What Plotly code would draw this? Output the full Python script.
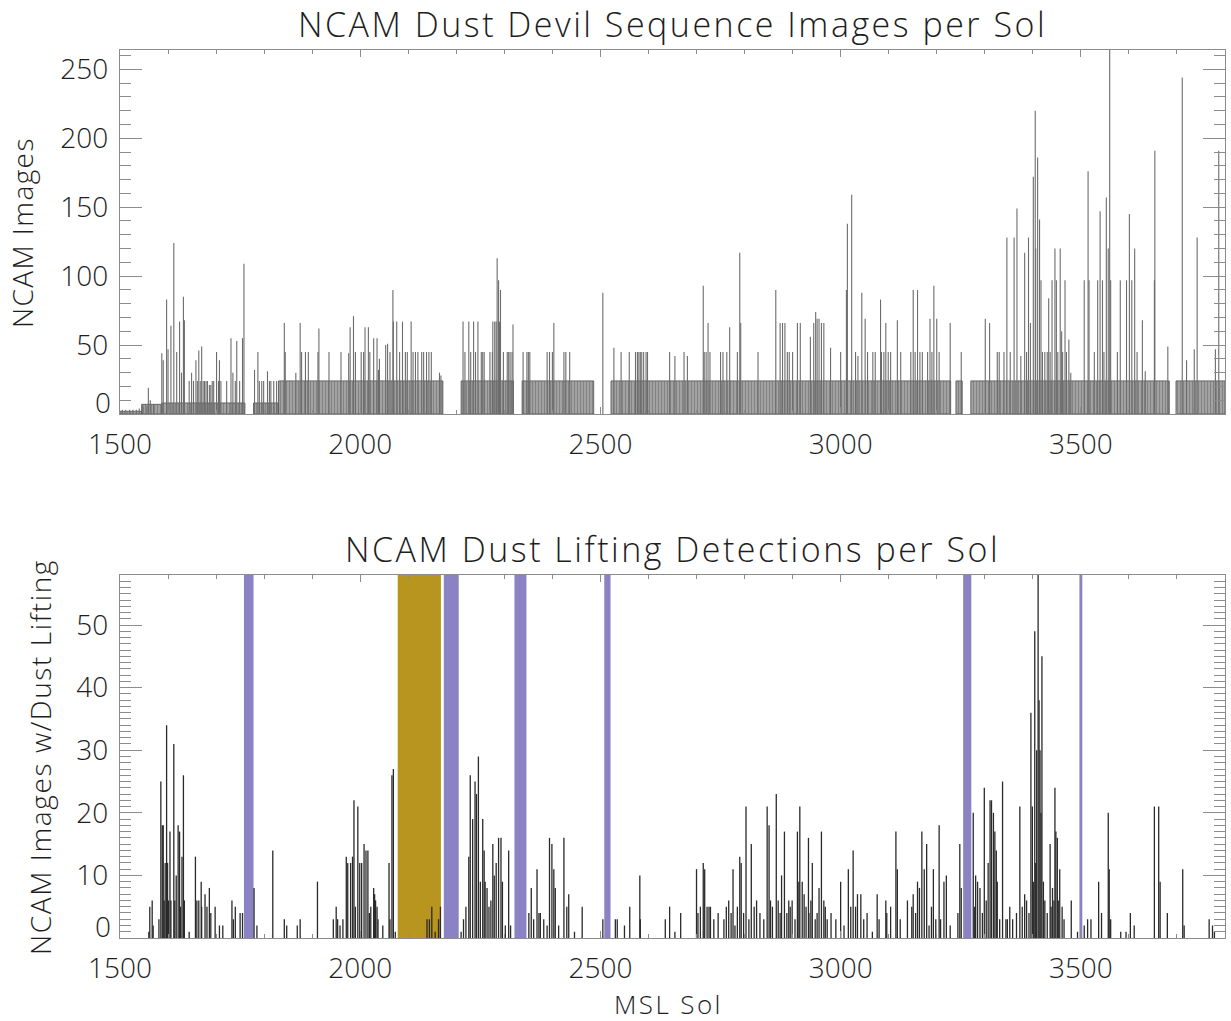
import plotly.graph_objects as go

# ---------------- DATA ----------------
# Top panel: base level of routine images per sol (sol ranges and level)
band_start = [1500, 1545, 1587, 1778, 1830, 2210, 2337, 2522, 3240, 3271, 3698]
band_end   = [1545, 1587, 1760, 1830, 2172, 2319, 2486, 3229, 3253, 3684, 3800]
band_level = [2, 7, 8, 8, 24, 24, 24, 24, 24, 24, 24]

# Top panel: individual sols with more images
top_sol = [1505, 1512, 1520, 1527, 1534, 1540, 1548, 1556, 1559, 1563, 1570, 1587, 1590, 1597, 1600, 1606, 1612,
           1618, 1624, 1628, 1632, 1634, 1644, 1649, 1653, 1658, 1661, 1664, 1667, 1670, 1673, 1676, 1679, 1682,
           1686, 1689, 1692, 1695, 1701, 1705, 1707, 1710, 1722, 1731, 1735, 1740, 1743, 1749, 1755, 1758,
           1780, 1787, 1790, 1795, 1799, 1807, 1811, 1814, 1820, 1826,
           1842, 1844, 1866, 1875, 1878, 1886, 1892, 1912, 1914, 1935, 1960, 1976, 1979, 1986, 1990, 2002, 2007,
           2010, 2017, 2020, 2028, 2035, 2038, 2040, 2053, 2057, 2062, 2068, 2069, 2076, 2082, 2088, 2094, 2098,
           2106, 2110, 2115, 2120, 2128, 2132, 2138, 2143, 2148, 2165, 2168,
           2214, 2218, 2226, 2230, 2236, 2240, 2245, 2252, 2255, 2258, 2270, 2275, 2276, 2280, 2283, 2285, 2288,
           2290, 2292, 2298, 2306, 2309, 2312, 2316, 2318,
           2339, 2347, 2350, 2353, 2389, 2394, 2400, 2403, 2424, 2428, 2436, 2505,
           2528, 2543, 2560, 2573, 2577, 2580, 2583, 2586, 2590, 2595, 2598, 2644, 2655, 2674, 2681,
           2714, 2716, 2720, 2724, 2728, 2750, 2755, 2763, 2769, 2785, 2790, 2792, 2828, 2865, 2874, 2879, 2884,
           2889, 2893, 2900, 2910, 2916, 2937, 2944, 2948, 2951, 2955, 2960, 2965, 2979, 3000, 3012, 3014, 3023,
           3031, 3036, 3044, 3051, 3056, 3067, 3072,
           3083, 3085, 3090, 3094, 3099, 3104, 3118, 3125, 3146, 3151, 3155, 3160, 3165, 3170, 3181, 3186, 3190,
           3194, 3200, 3205, 3228, 3251,
           3301, 3310, 3326, 3330, 3340, 3346, 3353, 3361, 3367, 3375, 3383, 3387, 3391, 3395, 3401, 3405, 3406,
           3410, 3414, 3417, 3420, 3425, 3430, 3433, 3436, 3440, 3446, 3449, 3452, 3457, 3460, 3462, 3467, 3470,
           3475, 3479, 3507, 3515, 3517, 3528, 3535, 3540, 3545, 3548, 3553, 3557, 3560, 3562, 3576, 3582, 3595,
           3601, 3606, 3612, 3617, 3628, 3634, 3653, 3654, 3681, 3711, 3720, 3736, 3742, 3780, 3787]
top_val = [3, 3, 3, 3, 3, 4, 6, 6, 19, 10, 7, 44, 39, 83, 47, 64, 124,
           45, 67, 30, 85, 68, 24, 30, 24, 39, 24, 46, 24, 49, 24, 24, 24, 24,
           21, 21, 24, 24, 45, 24, 39, 24, 24, 55, 30, 24, 53, 24, 55, 109,
           32, 45, 24, 24, 24, 31, 24, 24, 24, 24,
           66, 45, 30, 66, 45, 45, 45, 45, 62, 45, 45, 44, 63, 71, 45, 45, 45,
           63, 63, 45, 55, 55, 32, 40, 50, 51, 45, 90, 67, 67, 45, 67, 45, 45,
           67, 45, 45, 45, 45, 45, 45, 45, 45, 30, 28,
           67, 45, 67, 45, 67, 45, 67, 45, 45, 45, 45, 45, 67, 67, 67, 113, 97,
           67, 90, 45, 45, 45, 45, 45, 65,
           45, 45, 45, 45, 45, 45, 45, 66, 45, 45, 45, 88,
           48, 45, 45, 45, 45, 45, 45, 45, 45, 45, 45, 45, 42, 45, 42,
           93, 45, 45, 66, 45, 45, 45, 45, 63, 45, 117, 66, 45, 90, 66, 66, 66,
           45, 45, 45, 66, 66, 56, 66, 74, 69, 69, 66, 66, 48, 45, 90, 138, 159,
           45, 42, 88, 69, 45, 45, 45,
           83, 45, 45, 66, 45, 45, 68, 45, 45, 90, 45, 90, 45, 45, 45, 69, 45,
           93, 69, 45, 66, 45,
           69, 66, 45, 45, 45, 128, 45, 128, 149, 42, 117, 45, 128, 66, 172, 220, 120,
           186, 141, 97, 45, 45, 45, 84, 45, 97, 120, 97, 45, 120, 60, 45, 97, 45,
           54, 30, 97, 176, 97, 45, 97, 147, 97, 45, 157, 120, 265, 97, 45, 97, 97,
           145, 97, 120, 45, 68, 31, 97, 191, 49, 244, 39, 47, 128, 47, 191]

# Bottom panel: images with dust lifting per sol
bot_sol = [1560, 1562, 1567, 1569, 1581, 1585, 1588, 1590, 1592, 1594, 1597, 1599, 1601, 1604, 1606, 1612, 1614,
           1617, 1621, 1624, 1626, 1629, 1632, 1634, 1644, 1657, 1660, 1664, 1669, 1670, 1677, 1681, 1686, 1689,
           1698, 1707, 1714, 1733, 1736, 1740, 1750, 1755, 1779, 1785, 1818, 1842, 1847, 1869, 1875, 1911, 1944,
           1950, 1953, 1958, 1964, 1971, 1974, 1980, 1984, 1987, 1990, 1995, 1999, 2003, 2008, 2012, 2016, 2019,
           2022, 2028, 2030, 2032, 2035, 2037, 2047, 2060, 2062, 2066, 2069, 2073, 2139, 2144, 2149, 2156, 2163,
           2167, 2210, 2215, 2220, 2226, 2229, 2234, 2239, 2242, 2246, 2250, 2255, 2258, 2260, 2264, 2268, 2272,
           2276, 2279, 2283, 2288, 2293, 2296, 2302, 2309, 2313,
           2351, 2356, 2361, 2368, 2372, 2375, 2382, 2389, 2394, 2399, 2403, 2406, 2413, 2424, 2430, 2434, 2446,
           2462, 2505, 2531, 2535, 2550, 2561, 2582, 2583, 2635, 2644, 2655, 2667, 2700, 2703, 2708, 2714, 2717,
           2722, 2726, 2729, 2736, 2745, 2757, 2762, 2767, 2772, 2776, 2780, 2785, 2790, 2793, 2798, 2803, 2809,
           2814, 2820, 2825, 2832, 2840, 2847, 2851, 2854, 2858, 2866, 2870, 2874, 2877, 2883, 2888, 2892, 2895,
           2899, 2905, 2910, 2913, 2915, 2920, 2924, 2928, 2933, 2934, 2938, 2941, 2947, 2951, 2955, 2960, 2965,
           2968, 2972, 2980, 2990, 3000, 3007, 3016, 3021, 3026, 3031, 3035, 3042, 3048, 3055, 3066, 3076, 3080,
           3094, 3096, 3104, 3115, 3118, 3124, 3139, 3148, 3151, 3156, 3160, 3164, 3169, 3174, 3179, 3184, 3189,
           3193, 3198, 3205, 3208, 3215, 3220, 3228, 3244, 3248, 3251,
           3276, 3279, 3281, 3285, 3290, 3295, 3299, 3303, 3307, 3311, 3314, 3318, 3321, 3324, 3326, 3331, 3337,
           3344, 3347, 3352, 3358, 3366, 3373, 3378, 3383, 3387, 3392, 3396, 3399, 3401, 3404, 3406, 3408, 3411,
           3413, 3415, 3417, 3419, 3422, 3425, 3430, 3436, 3438, 3441, 3444, 3446, 3448, 3451, 3453, 3456, 3461,
           3465, 3480, 3493, 3507, 3514, 3521, 3537, 3543, 3557, 3559, 3562, 3583, 3594, 3603, 3611, 3653, 3662,
           3665, 3680, 3712, 3715, 3767, 3774, 3778]
bot_val = [1, 5, 6, 2, 3, 25, 18, 18, 6, 12, 34, 12, 6, 17, 6, 31, 6,
           10, 18, 17, 5, 13, 26, 6, 1, 13, 6, 6, 9, 5, 7, 5, 8, 4,
           5, 2, 2, 6, 3, 5, 4, 4, 8, 2, 14, 3, 2, 2, 3, 9, 3,
           5, 3, 2, 3, 13, 12, 12, 13, 22, 5, 21, 12, 12, 15, 14, 14, 4,
           5, 8, 7, 6, 5, 3, 2, 12, 3, 26, 27, 1, 3, 3, 5, 1, 3,
           5, 1, 3, 5, 13, 26, 19, 25, 23, 29, 9, 19, 14, 9, 8, 5, 6,
           15, 10, 12, 16, 16, 9, 2, 14, 2,
           4, 8, 3, 11, 4, 4, 3, 2, 16, 15, 11, 8, 2, 16, 5, 7, 1,
           5, 3, 3, 3, 2, 5, 10, 3, 3, 5, 1, 4, 11, 4, 5, 12, 11,
           5, 5, 5, 3, 4, 3, 5, 6, 4, 11, 2, 5, 13, 12, 4, 21, 3,
           15, 5, 6, 4, 3, 21, 18, 6, 5, 23, 6, 4, 10, 17, 4, 6, 5,
           6, 3, 17, 9, 21, 9, 7, 5, 16, 4, 6, 12, 3, 4, 8, 17, 6,
           5, 3, 4, 3, 9, 2, 11, 5, 14, 5, 7, 7, 3, 4, 1, 7, 3,
           6, 4, 5, 17, 11, 3, 6, 5, 7, 4, 9, 8, 17, 11, 15, 2, 5,
           11, 3, 18, 3, 9, 10, 2, 4, 15, 8,
           20, 5, 10, 9, 8, 4, 24, 6, 12, 22, 22, 20, 17, 14, 9, 3, 25,
           3, 3, 5, 3, 4, 21, 5, 7, 6, 4, 36, 21, 9, 49, 12, 30, 58,
           38, 30, 20, 45, 9, 6, 4, 15, 5, 8, 6, 24, 17, 16, 6, 11, 5,
           3, 6, 1, 2, 3, 3, 9, 4, 20, 11, 3, 1, 1, 4, 2, 21, 21,
           9, 4, 11, 2, 3, 2, 1]

# Bottom panel shaded periods
purple_start = [1758, 2174, 2321, 2508, 3255, 3497]
purple_end   = [1778, 2205, 2346, 2521, 3272, 3503]
gold_start = [2078]
gold_end   = [2168]

# Axis ticks
x_ticks = [1500, 2000, 2500, 3000, 3500]
top_y_ticks = [0, 50, 100, 150, 200, 250]
bot_y_ticks = [0, 10, 20, 30, 40, 50]

# ---------------- HELPERS ----------------
def spike_xy(sols, vals):
    xs, ys = [], []
    for s, v in zip(sols, vals):
        xs += [s, s, None]
        ys += [0, v, None]
    return xs, ys

def band_xy(starts, ends, levels):
    xs, ys = [], []
    for a, b, l in zip(starts, ends, levels):
        xs += [a, a, b, b, a, None]
        ys += [0, l, l, 0, 0, None]
    return xs, ys

FONT = "Open Sans, DejaVu Sans, sans-serif"
W = 300
TXT = "#1e1e1e"
AX = "#8c8c8c"

# figure pixel geometry
L, R, T, B = 120, 6, 50, 83
PW, PH = 1231 - L - R, 1021 - T - B

def px(x):
    return (x - L) / PW

def py(y):
    return (1021 - B - y) / PH

def spaced(text, sp):
    return '<span style="letter-spacing:%.1fpx">%s</span>' % (sp, text)

def labels(ticks):
    # the zero label is drawn separately, lifted off the corner like the original
    return ["" if t == 0 else str(t) for t in ticks]

fig = go.Figure()

bx, by = band_xy(band_start, band_end, band_level)
fig.add_trace(go.Scatter(x=bx, y=by, mode="lines", fill="toself", fillcolor="rgba(0,0,0,0)",
                         fillpattern=dict(shape="|", fgcolor="#5c5c5c", bgcolor="#ababab",
                                          size=3, solidity=0.5),
                         line=dict(color="#5c5c5c", width=0.9), xaxis="x", yaxis="y",
                         hoverinfo="skip", showlegend=False))
tx, ty = spike_xy(top_sol, top_val)
fig.add_trace(go.Scatter(x=tx, y=ty, mode="lines", line=dict(color="#6c6c6c", width=1.1),
                         xaxis="x", yaxis="y", showlegend=False))

lx, ly = spike_xy(bot_sol, bot_val)
fig.add_trace(go.Scatter(x=lx, y=ly, mode="lines", line=dict(color="#2a2a2a", width=1.3),
                         xaxis="x2", yaxis="y2", showlegend=False))

shapes = []
for a, b in zip(gold_start, gold_end):
    shapes.append(dict(type="rect", xref="x2", yref="y2 domain", x0=a, x1=b, y0=0, y1=1,
                       fillcolor="#b8951f", line=dict(width=0), layer="below"))
for a, b in zip(purple_start, purple_end):
    shapes.append(dict(type="rect", xref="x2", yref="y2 domain", x0=a, x1=b, y0=0, y1=1,
                       fillcolor="#8a82c2", line=dict(width=0), layer="below"))

top_dom = [py(414), 1]
bot_dom = [0, py(575)]

tickfont = dict(family=FONT, size=28, color=TXT, weight=W)
xcommon = dict(range=[1500, 3800], tickvals=x_ticks, ticks="inside", ticklen=7, tickwidth=1,
               tickcolor=AX, showline=True, linecolor=AX, linewidth=1.2, mirror="allticks",
               showgrid=False, zeroline=False, tickfont=tickfont, automargin=False,
               ticklabelstandoff=5,
               minor=dict(dtick=100, ticks="inside", ticklen=4, tickcolor=AX, showgrid=False))

def ann(text, x, y, size, sp, angle=0):
    return dict(text=spaced(text, sp), x=px(x), y=py(y), textangle=angle, xref="paper", yref="paper",
                showarrow=False, xanchor="center", yanchor="middle",
                font=dict(family=FONT, size=size, color=TXT, weight=W))

def zero_label(yref):
    return dict(text="0", x=px(113), y=0, xref="paper", yref=yref, yshift=12,
                showarrow=False, xanchor="right", yanchor="middle",
                font=dict(family=FONT, size=28, color=TXT, weight=W))

fig.update_layout(
    width=1231, height=1021, margin=dict(l=L, r=R, t=T, b=B, autoexpand=False),
    paper_bgcolor="white", plot_bgcolor="white", showlegend=False,
    xaxis=dict(domain=[0, 1], anchor="y", **xcommon),
    xaxis2=dict(domain=[0, 1], anchor="y2", **xcommon),
    yaxis=dict(domain=top_dom, anchor="x", range=[0, 264], tickvals=top_y_ticks,
               ticktext=labels(top_y_ticks), ticks="inside",
               ticklen=22, tickcolor=AX, showline=True, linecolor=AX, linewidth=1.2, mirror="allticks",
               showgrid=False, zeroline=False, tickfont=tickfont, automargin=False,
               ticklabelstandoff=5,
               minor=dict(dtick=10, ticks="inside", ticklen=11, tickcolor=AX, showgrid=False)),
    yaxis2=dict(domain=bot_dom, anchor="x2", range=[0, 58], tickvals=bot_y_ticks,
                ticktext=labels(bot_y_ticks), ticks="inside",
                ticklen=22, tickcolor=AX, showline=True, linecolor=AX, linewidth=1.2, mirror="allticks",
                showgrid=False, zeroline=False, tickfont=tickfont, automargin=False,
                ticklabelstandoff=5,
                minor=dict(dtick=1, ticks="inside", ticklen=11, tickcolor=AX, showgrid=False)),
    shapes=shapes,
    annotations=[
        ann("NCAM Dust Devil Sequence Images per Sol", 672, 24, 34, 2.5),
        ann("NCAM Dust Lifting Detections per Sol", 672, 549, 34, 2.5),
        ann("NCAM Images", 22, 233, 28, 1.4, -90),
        ann("NCAM Images w/Dust Lifting", 40, 757, 28, 1.6, -90),
        ann("MSL Sol", 668, 1004, 26, 2.4),
        zero_label("y"),
        zero_label("y2"),
    ],
)

fig.write_html("out.html")
